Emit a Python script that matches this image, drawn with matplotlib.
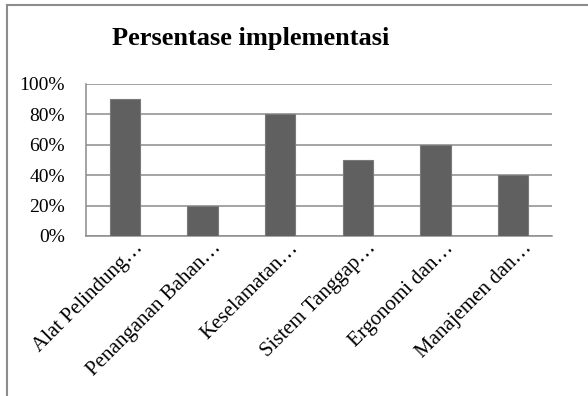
import numpy as np
import matplotlib.pyplot as plt
from matplotlib.lines import Line2D
from matplotlib.ticker import FuncFormatter
import matplotlib.transforms as mtransforms

plt.rcParams['font.family'] = ['Liberation Serif', 'DejaVu Serif']

categories = ['Alat Pelindung\u2026', 'Penanganan Bahan\u2026', 'Keselamatan\u2026',
              'Sistem Tanggap\u2026', 'Ergonomi dan\u2026', 'Manajemen dan\u2026']
values = [0.90, 0.20, 0.80, 0.50, 0.60, 0.40]
yticks = [0, 0.2, 0.4, 0.6, 0.8, 1.0]

W, H = 588, 396
fig = plt.figure(figsize=(W / 100, H / 100), dpi=100)

# outer chart frame (continues past right/bottom edge)
gray = '#8c8c8c'
fig.add_artist(Line2D([7 / W, 7 / W], [0, 1 - 5 / H], color=gray, lw=1.5,
                      transform=fig.transFigure))
fig.add_artist(Line2D([7 / W, 1], [1 - 5 / H, 1 - 5 / H], color=gray, lw=1.5,
                      transform=fig.transFigure))

ax = fig.add_axes([86 / W, (H - 236) / H, (552 - 86) / W, (236 - 84) / H])
x = np.arange(len(categories))
ax.bar(x, values, width=0.39, color='#606060', edgecolor='#7a7a7a', lw=0.8, zorder=3)

ax.set_xlim(-0.5, len(categories) - 0.5)
ax.set_ylim(0, 1.0)
ax.set_yticks(yticks)
ax.yaxis.set_major_formatter(FuncFormatter(lambda v, p: f'{v * 100:.0f}%'))
ax.grid(axis='y', color=gray, lw=1.1, zorder=0)
ax.tick_params(axis='y', length=0, labelsize=14, pad=15)
ax.tick_params(axis='x', length=0, labelsize=15, pad=2)

for s in ['top', 'right']:
    ax.spines[s].set_visible(False)
for s in ['left', 'bottom']:
    ax.spines[s].set_color(gray)
    ax.spines[s].set_linewidth(1.1)

ax.set_xticks(x)
ax.set_xticklabels(categories, rotation=45, ha='right', rotation_mode='anchor')
offset = mtransforms.ScaledTranslation(9 / 100, 0, fig.dpi_scale_trans)
for lab in ax.get_xticklabels():
    lab.set_transform(lab.get_transform() + offset)

fig.text(251 / W, 1 - 45 / H, 'Persentase implementasi', ha='center', va='baseline',
         fontsize=19, fontweight='bold')

plt.savefig('out.png', dpi=100)
